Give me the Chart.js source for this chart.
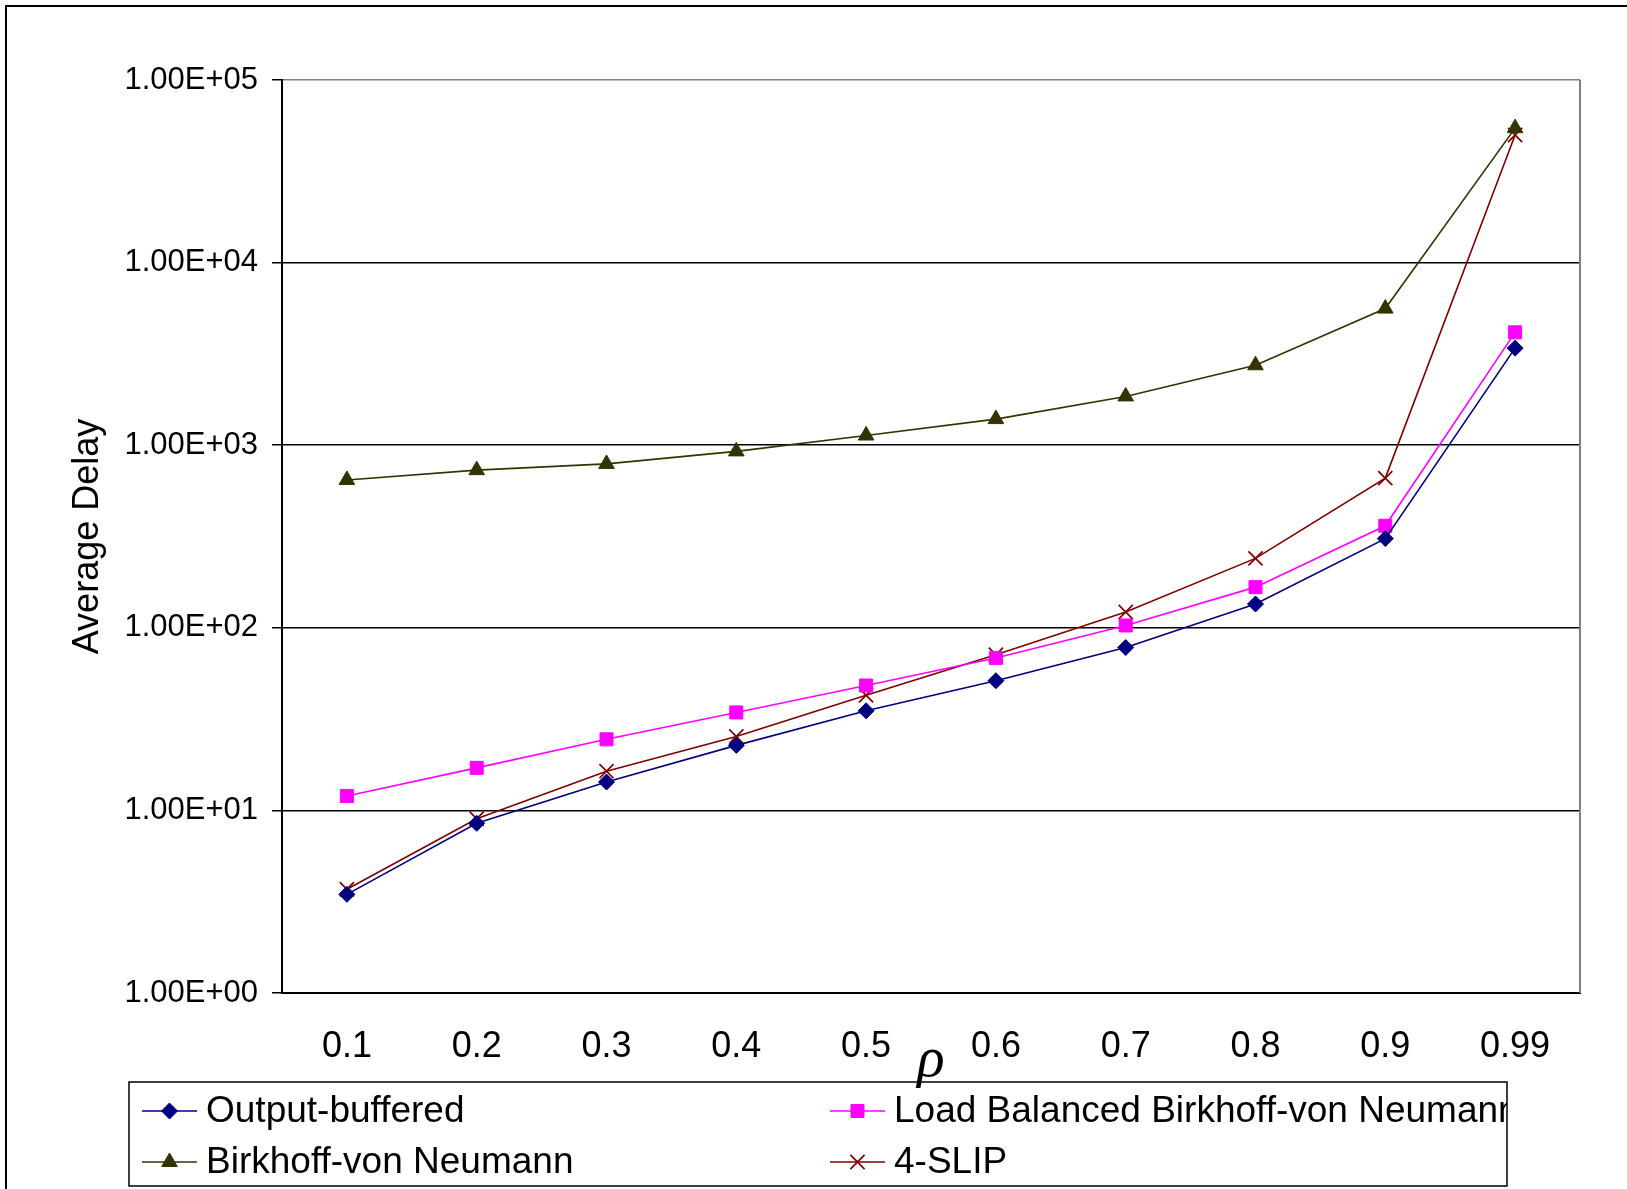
<!DOCTYPE html>
<html>
<head>
<meta charset="utf-8">
<script src="https://cdn.jsdelivr.net/npm/chart.js@4.4.1/dist/chart.umd.min.js"></script>
<style>
  html, body { margin: 0; padding: 0; background: #ffffff; }
  canvas { display: block; }
</style>
</head>
<body>
<canvas id="c" width="1627" height="1189"></canvas>
<script>
// ---------------- data ----------------
const categories = ['0.1', '0.2', '0.3', '0.4', '0.5', '0.6', '0.7', '0.8', '0.9', '0.99'];
const outputBuffered = [3.47, 8.5, 14.3, 22.7, 35.1, 51.3, 78, 135, 308, 3400];
const loadBalancedBvN = [12.0, 17.1, 24.5, 34.4, 48.3, 68.4, 103, 167, 362, 4150];
const birkhoffVonNeumann = [645, 730, 790, 925, 1130, 1390, 1850, 2740, 5600, 54500];
const fourSlip = [3.7, 9.0, 16.4, 25.4, 42.7, 71.2, 122, 240, 660, 50000];
const seriesNames = ['Output-buffered', 'Load Balanced Birkhoff-von Neumann', 'Birkhoff-von Neumann', '4-SLIP'];
const yTickValues = [1, 10, 100, 1000, 10000, 100000];
const yTickLabels = ['1.00E+00', '1.00E+01', '1.00E+02', '1.00E+03', '1.00E+04', '1.00E+05'];
const yAxisTitle = 'Average Delay';
const xAxisTitle = 'ρ';

const FONT = "'Liberation Sans', Arial, Helvetica, sans-serif";

// ---------------- plugins ----------------
const backgroundPlugin = {
  id: 'bg',
  beforeDraw(chart) {
    const ctx = chart.ctx;
    ctx.save();
    ctx.fillStyle = '#ffffff';
    ctx.fillRect(0, 0, chart.width, chart.height);
    ctx.restore();
  }
};

const framePlugin = {
  id: 'frame',
  afterDraw(chart) {
    const ctx = chart.ctx;
    const a = chart.chartArea;
    ctx.save();
    ctx.strokeStyle = '#808080';
    ctx.lineWidth = 2;
    ctx.beginPath();
    ctx.moveTo(a.right, a.top);
    ctx.lineTo(a.right, a.bottom);
    ctx.stroke();
    ctx.strokeStyle = '#000000';
    ctx.lineWidth = 2;
    ctx.beginPath();
    ctx.moveTo(6, chart.height);
    ctx.lineTo(6, 6);
    ctx.lineTo(chart.width, 6);
    ctx.stroke();
    ctx.restore();
  }
};

function drawMarker(ctx, style, radius, x, y, borderWidth) {
  if (Chart.helpers && Chart.helpers.drawPoint) {
    Chart.helpers.drawPoint(ctx, { pointStyle: style, radius: radius, rotation: 0, borderWidth: borderWidth }, x, y);
  }
}

const boxLegendPlugin = {
  id: 'boxLegend',
  afterDraw(chart) {
    const ctx = chart.ctx;
    const box = { left: 129, top: 1082, right: 1507, bottom: 1186 };
    const slots = [
      { x: 142, y: 1111 }, { x: 830, y: 1111 },
      { x: 142, y: 1162 }, { x: 830, y: 1162 }
    ];
    ctx.save();
    ctx.strokeStyle = '#000000';
    ctx.lineWidth = 1.5;
    ctx.strokeRect(box.left, box.top, box.right - box.left, box.bottom - box.top);
    ctx.beginPath();
    ctx.rect(box.left, box.top, box.right - box.left, box.bottom - box.top);
    ctx.clip();
    chart.data.datasets.forEach((ds, i) => {
      const s = slots[i];
      ctx.strokeStyle = ds.borderColor;
      ctx.lineWidth = ds.borderWidth;
      ctx.beginPath();
      ctx.moveTo(s.x, s.y);
      ctx.lineTo(s.x + 55, s.y);
      ctx.stroke();
      ctx.fillStyle = ds.pointBackgroundColor;
      ctx.strokeStyle = ds.pointBorderColor;
      ctx.lineWidth = ds.pointBorderWidth;
      drawMarker(ctx, ds.pointStyle, ds.pointRadius, s.x + 27.5, s.y, ds.pointBorderWidth);
      ctx.fillStyle = '#000000';
      ctx.font = '37px ' + FONT;
      ctx.textAlign = 'left';
      ctx.textBaseline = 'middle';
      ctx.fillText(ds.label, s.x + 64, s.y + 1);
    });
    ctx.restore();
  }
};

// ---------------- chart ----------------
new Chart(document.getElementById('c').getContext('2d'), {
  type: 'line',
  data: {
    labels: categories,
    datasets: [
      {
        label: seriesNames[0], data: outputBuffered,
        borderColor: '#000080', backgroundColor: '#000080', borderWidth: 1.6,
        pointStyle: 'rectRot', pointRadius: 8, pointBackgroundColor: '#000080',
        pointBorderColor: '#000080', pointBorderWidth: 1, tension: 0, fill: false
      },
      {
        label: seriesNames[1], data: loadBalancedBvN,
        borderColor: '#FF00FF', backgroundColor: '#FF00FF', borderWidth: 1.6,
        pointStyle: 'rect', pointRadius: 9.2, pointBackgroundColor: '#FF00FF',
        pointBorderColor: '#FF00FF', pointBorderWidth: 1, tension: 0, fill: false
      },
      {
        label: seriesNames[2], data: birkhoffVonNeumann,
        borderColor: '#333300', backgroundColor: '#333300', borderWidth: 1.6,
        pointStyle: 'triangle', pointRadius: 9, pointBackgroundColor: '#333300',
        pointBorderColor: '#333300', pointBorderWidth: 1, tension: 0, fill: false
      },
      {
        label: seriesNames[3], data: fourSlip,
        borderColor: '#800000', backgroundColor: '#800000', borderWidth: 1.6,
        pointStyle: 'crossRot', pointRadius: 10, pointBackgroundColor: '#800000',
        pointBorderColor: '#800000', pointBorderWidth: 1.7, tension: 0, fill: false
      }
    ]
  },
  options: {
    responsive: false,
    animation: false,
    devicePixelRatio: 1,
    layout: { padding: { top: 80, right: 47, left: 0, bottom: 0 } },
    plugins: {
      legend: { display: false },
      tooltip: { enabled: false }
    },
    scales: {
      x: {
        type: 'category',
        offset: true,
        grid: { display: false, drawTicks: false, tickLength: 0 },
        border: { display: true, color: '#000000', width: 2 },
        ticks: {
          color: '#000000', font: { family: FONT, size: 36 }, padding: 32,
          maxRotation: 0, minRotation: 0, autoSkip: false
        },
        title: {
          display: true, text: xAxisTitle, color: '#000000',
          font: { family: "'Liberation Serif', 'Times New Roman', serif", style: 'italic', size: 57, lineHeight: 1.2 },
          padding: { top: 0, bottom: 94 }
        },
        afterFit(scale) { scale.height = 196; }
      },
      y: {
        type: 'logarithmic',
        min: 1,
        max: 100000,
        afterBuildTicks(scale) { scale.ticks = yTickValues.map(v => ({ value: v })); },
        ticks: {
          color: '#000000', font: { family: FONT, size: 31 }, padding: 14,
          autoSkip: false,
          callback: (value, index) => yTickLabels[yTickValues.indexOf(value)] ?? yTickLabels[index]
        },
        grid: {
          color: (c) => (c.tick && c.tick.value === 100000) ? '#808080' : '#000000',
          lineWidth: 1.5, drawTicks: true, tickLength: 10, tickColor: '#000000'
        },
        border: { display: true, color: '#000000', width: 2 },
        title: {
          display: true, text: yAxisTitle, color: '#000000',
          font: { family: FONT, size: 36, lineHeight: 1.2 },
          padding: { top: 66, bottom: 0 }
        },
        afterFit(scale) { scale.width = 282; }
      }
    }
  },
  plugins: [backgroundPlugin, framePlugin, boxLegendPlugin]
});
</script>
</body>
</html>
